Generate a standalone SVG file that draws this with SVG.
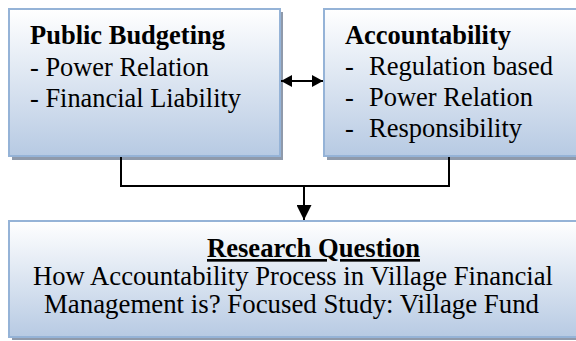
<svg xmlns="http://www.w3.org/2000/svg" width="576" height="341" viewBox="0 0 576 341">
<defs>
<linearGradient id="g" x1="0" y1="0" x2="0" y2="1">
<stop offset="0" stop-color="#ffffff"/>
<stop offset="1" stop-color="#b7cae3"/>
</linearGradient>
<marker id="ah" viewBox="0 0 10 10" refX="10" refY="5" markerWidth="11" markerHeight="12" markerUnits="userSpaceOnUse" orient="auto-start-reverse" preserveAspectRatio="none">
<path d="M0,0 L10,5 L0,10 Z" fill="#000"/>
</marker>
<marker id="ahd" viewBox="0 0 10 10" refX="10" refY="5" markerWidth="15" markerHeight="15" markerUnits="userSpaceOnUse" orient="auto">
<path d="M0,0 L10,5 L0,10 Z" fill="#000"/>
</marker>
</defs>
<style>
.shadow{fill:#8f9aab}
.box{fill:url(#g);stroke:#95b3d7;stroke-width:2}
.t{font-family:"Liberation Serif","DejaVu Serif",serif;font-size:26.5px;fill:#000}
.b{font-weight:bold}
.conn{fill:none;stroke:#000;stroke-width:2}
</style>
<rect width="576" height="341" fill="#ffffff"/>
<g id="public-budgeting">
<rect class="shadow" x="12" y="12" width="271" height="148"/>
<rect class="box" x="9" y="9" width="271" height="147"/>
<text class="t b" x="30" y="44" textLength="195" lengthAdjust="spacingAndGlyphs">Public Budgeting</text>
<text class="t" x="30" y="76" textLength="179" lengthAdjust="spacingAndGlyphs">- Power Relation</text>
<text class="t" x="30" y="107" textLength="211" lengthAdjust="spacingAndGlyphs">- Financial Liability</text>
</g>
<g id="accountability">
<rect class="shadow" x="327" y="12" width="260" height="148"/>
<rect class="box" x="324" y="9" width="260" height="147"/>
<text class="t b" x="345" y="44" textLength="166" lengthAdjust="spacingAndGlyphs">Accountability</text>
<text class="t" x="345" y="75">-</text><text class="t" x="369" y="75" textLength="184" lengthAdjust="spacingAndGlyphs">Regulation based</text>
<text class="t" x="345" y="106">-</text><text class="t" x="369" y="106" textLength="164" lengthAdjust="spacingAndGlyphs">Power Relation</text>
<text class="t" x="345" y="137">-</text><text class="t" x="369" y="137" textLength="153" lengthAdjust="spacingAndGlyphs">Responsibility</text>
</g>
<g id="research-question">
<rect class="shadow" x="12" y="224" width="575" height="116"/>
<rect class="box" x="9" y="221" width="575" height="116"/>
<text class="t b" x="207" y="257" text-decoration="underline" textLength="213" lengthAdjust="spacingAndGlyphs">Research Question</text>
<text class="t" x="33" y="285" textLength="520" lengthAdjust="spacingAndGlyphs">How Accountability Process in Village Financial</text>
<text class="t" x="44" y="313" textLength="495" lengthAdjust="spacingAndGlyphs">Management is? Focused Study: Village Fund</text>
</g>
<g id="connectors">
<line class="conn" x1="281" y1="81" x2="323" y2="81" marker-start="url(#ah)" marker-end="url(#ah)"/>
<polyline class="conn" points="121,157 121,186 449,186 449,157"/>
<line class="conn" x1="304" y1="186" x2="304" y2="220" marker-end="url(#ahd)"/>
</g>
</svg>
